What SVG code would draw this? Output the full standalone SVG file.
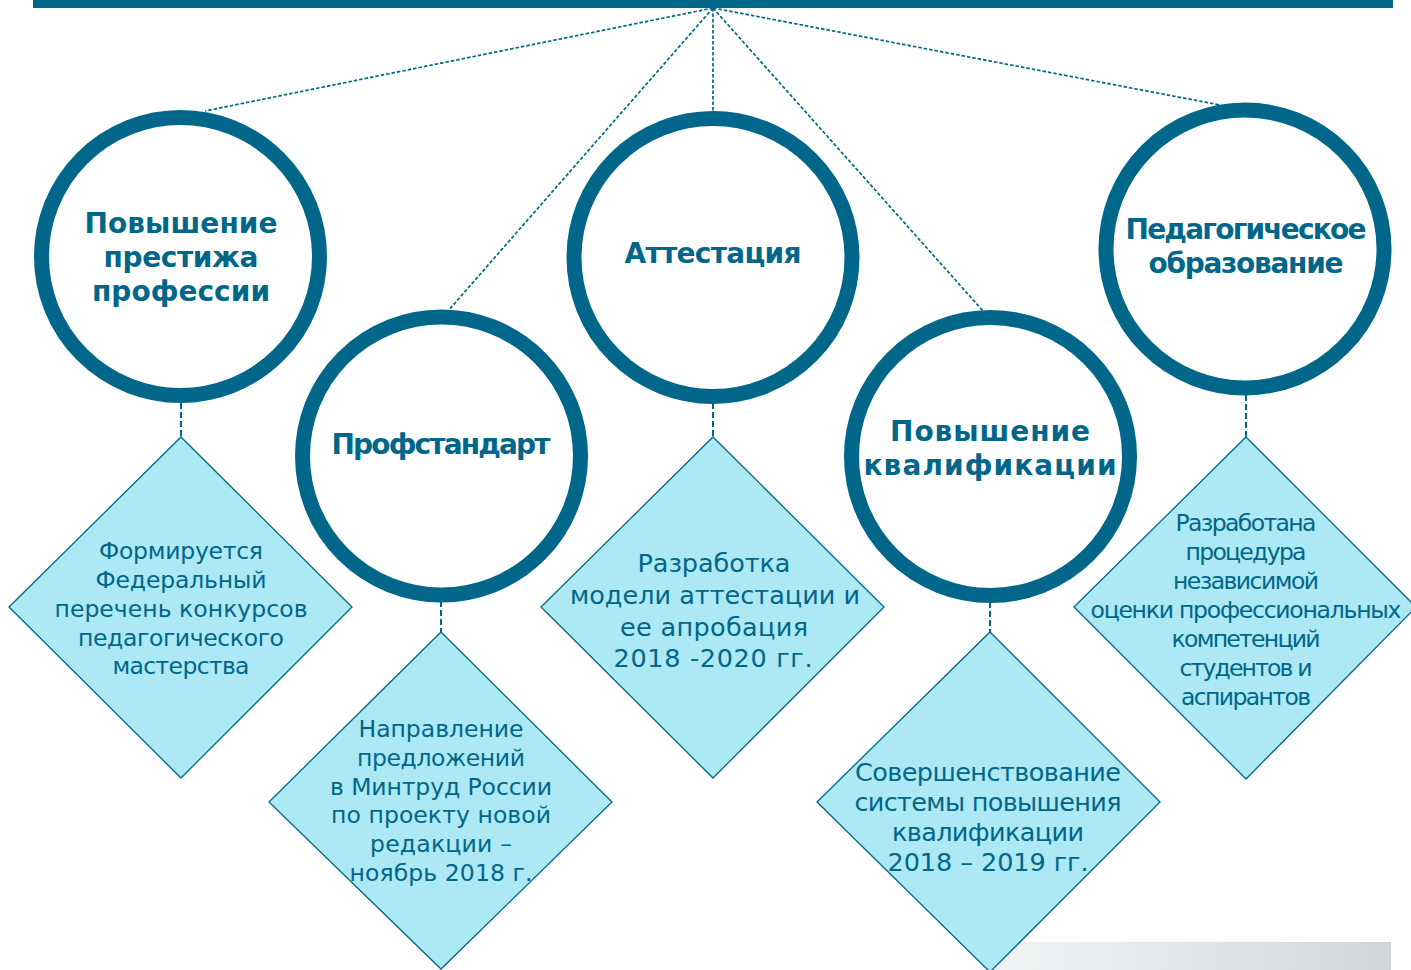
<svg xmlns="http://www.w3.org/2000/svg" width="1411" height="970" viewBox="0 0 1411 970">
<defs>
<linearGradient id="gbar" x1="0" y1="0" x2="1" y2="0">
<stop offset="0" stop-color="#f2f6f7"/>
<stop offset="1" stop-color="#d3d6d8"/>
</linearGradient>
<style>
.circ{fill:#ffffff;stroke:#00668a;stroke-width:15}
.dia{fill:#ade8f5;stroke:#00668a;stroke-width:1.3}
.hub{fill:none;stroke:#00668a;stroke-width:1.7;stroke-dasharray:3.5 2}
.vert{fill:none;stroke:#00668a;stroke-width:2;stroke-dasharray:6 3}
.ct{font-family:"DejaVu Sans","Liberation Sans",sans-serif;font-weight:bold;font-size:28px;fill:#00668a;text-anchor:middle}
.dt{font-family:"DejaVu Sans","Liberation Sans",sans-serif;font-size:23.5px;fill:#00668a;text-anchor:middle}
.dt3{font-family:"DejaVu Sans","Liberation Sans",sans-serif;font-size:25.5px;fill:#00668a;text-anchor:middle}
</style>
</defs>
<rect x="33" y="0" width="1360" height="8" fill="#00668a"/>
<rect x="980" y="942" width="411" height="28" fill="url(#gbar)"/>
<g id="connectors">
<line class="hub" x1="713" y1="8" x2="205" y2="111"/>
<line class="hub" x1="713" y1="8" x2="448" y2="311"/>
<line class="hub" x1="713" y1="8" x2="713" y2="112"/>
<line class="hub" x1="713" y1="8" x2="983" y2="311"/>
<line class="hub" x1="713" y1="8" x2="1220" y2="105"/>
<line class="vert" x1="181" y1="403" x2="181" y2="437"/>
<line class="vert" x1="441" y1="601" x2="441" y2="632"/>
<line class="vert" x1="713" y1="403" x2="713" y2="437"/>
<line class="vert" x1="990" y1="602" x2="990" y2="632"/>
<line class="vert" x1="1246" y1="395" x2="1246" y2="437"/>
</g>
<g id="d1">
<polygon class="dia" points="181,437 352,607 181,778 9,607"/>
<text class="dt"><tspan x="181" y="559" textLength="164">Формируется</tspan><tspan x="181" y="588" textLength="171">Федеральный</tspan><tspan x="181" y="617" textLength="253">перечень конкурсов</tspan><tspan x="181" y="646" textLength="206">педагогического</tspan><tspan x="181" y="674" textLength="137">мастерства</tspan></text>
</g>
<g id="d2">
<polygon class="dia" points="441,632 612,802 441,969 269,802"/>
<text class="dt"><tspan x="441" y="737" textLength="165">Направление</tspan><tspan x="441" y="766" textLength="168">предложений</tspan><tspan x="441" y="795" textLength="222">в Минтруд России</tspan><tspan x="441" y="823" textLength="220">по проекту новой</tspan><tspan x="441" y="852" textLength="142">редакции –</tspan><tspan x="441" y="881" textLength="183">ноябрь 2018 г.</tspan></text>
</g>
<g id="d3">
<polygon class="dia" points="713,437 884,607 713,778 541,607"/>
<text class="dt3"><tspan x="714" y="572" textLength="153">Разработка</tspan><tspan x="715" y="604" textLength="290">модели аттестации и</tspan><tspan x="714" y="636" textLength="188">ее апробация</tspan><tspan x="713" y="667" textLength="199">2018 -2020 гг.</tspan></text>
</g>
<g id="d4">
<polygon class="dia" points="990,632 1160,802 990,972 817,802"/>
<text class="dt3"><tspan x="988" y="781" textLength="266">Совершенствование</tspan><tspan x="988" y="811" textLength="267">системы повышения</tspan><tspan x="988" y="841" textLength="192">квалификации</tspan><tspan x="988" y="871" textLength="201">2018 – 2019 гг.</tspan></text>
</g>
<g id="d5">
<polygon class="dia" points="1246,437 1416,607 1246,779 1074,607"/>
<text class="dt"><tspan x="1246" y="531" textLength="141">Разработана</tspan><tspan x="1246" y="560" textLength="121">процедура</tspan><tspan x="1246" y="589" textLength="146">независимой</tspan><tspan x="1246" y="618" textLength="311">оценки профессиональных</tspan><tspan x="1246" y="647" textLength="149">компетенций</tspan><tspan x="1246" y="676" textLength="133">студентов и</tspan><tspan x="1246" y="705" textLength="130">аспирантов</tspan></text>
</g>
<g id="c1">
<circle class="circ" cx="180.5" cy="256.5" r="139"/>
<text class="ct"><tspan x="181" y="233" textLength="193">Повышение</tspan><tspan x="181" y="267" textLength="155">престижа</tspan><tspan x="181" y="301" textLength="178">профессии</tspan></text>
</g>
<g id="c2">
<circle class="circ" cx="441.5" cy="456" r="139"/>
<text class="ct"><tspan x="441" y="454" textLength="219">Профстандарт</tspan></text>
</g>
<g id="c3">
<circle class="circ" cx="713" cy="257.5" r="139"/>
<text class="ct"><tspan x="713" y="263" textLength="177">Аттестация</tspan></text>
</g>
<g id="c4">
<circle class="circ" cx="990.5" cy="456.5" r="139"/>
<text class="ct"><tspan x="990" y="441" textLength="200">Повышение</tspan><tspan x="990" y="475" textLength="253">квалификации</tspan></text>
</g>
<g id="c5">
<circle class="circ" cx="1245" cy="249" r="139"/>
<text class="ct"><tspan x="1246" y="239" textLength="241">Педагогическое</tspan><tspan x="1246" y="273" textLength="195">образование</tspan></text>
</g>
</svg>
